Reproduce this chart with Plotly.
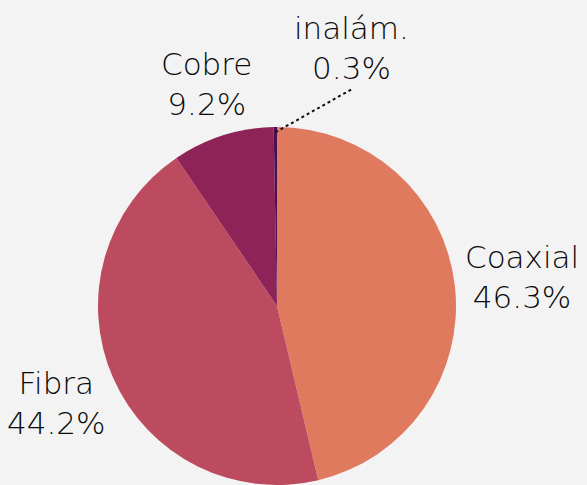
import numpy as np
import plotly.graph_objects as go

# ------------------------
# Data
# ------------------------

labels = ["Coaxial", "Fibra", "Cobre", "inalám."]
shares = [46.3, 44.2, 9.2, 0.3]
colors = ["#E07A5F", "#BC4B5F", "#8E2357", "#4E0C52"]

font = dict(family="DejaVu Sans", size=31, color="#0A0A0A", weight=300)

# label distance from the centre, in pie radii (None = pulled aside)
label_dist = [1.38, 1.35, 1.30, None]

# ------------------------
# Pie
# ------------------------

fig = go.Figure()

fig.add_trace(
    go.Pie(
        labels=labels,
        values=shares,
        sort=False,
        direction="clockwise",
        rotation=0,
        marker=dict(colors=colors, line=dict(width=0)),
        textinfo="none",
        showlegend=False,
        hoverinfo="label+percent",
    )
)

# ------------------------
# Labels along each slice's middle angle
# ------------------------

total = sum(shares)
cum = np.cumsum([0] + shares)

for i, name in enumerate(labels):
    mid = (cum[i] + shares[i] / 2) / total * 2 * np.pi
    text = f"{name}<br>{shares[i] / total * 100:.1f}%"

    if label_dist[i] is not None:
        k = label_dist[i]
        fig.add_annotation(
            xref="paper", yref="paper",
            x=0.5 + 0.5 * k * np.sin(mid),
            y=0.5 + 0.5 * k * np.cos(mid),
            xanchor="center", yanchor="middle",
            text=text, showarrow=False, font=font,
        )
    else:
        # tiny slice: dotted leader to a label moved up and right
        x0 = 0.5 + 0.485 * np.sin(mid)
        y0 = 0.5 + 0.485 * np.cos(mid)
        x1 = x0 + 0.214
        y1 = y0 + 0.121
        fig.add_shape(
            type="line",
            xref="paper", yref="paper",
            x0=x0, y0=y0, x1=x1, y1=y1,
            line=dict(color="#111111", width=2, dash="dot"),
        )
        fig.add_annotation(
            xref="paper", yref="paper",
            x=x1, y=y1 + 0.115,
            xanchor="center", yanchor="middle",
            text=text, showarrow=False, font=font,
        )

fig.update_layout(
    width=587,
    height=485,
    margin=dict(l=98, r=131, t=127, b=0),
    paper_bgcolor="#F3F3F3",
    plot_bgcolor="#F3F3F3",
)

fig.write_html(
    "out.html",
    config={"displayModeBar": False},
    post_script="document.body.style.margin = '0';",
)
